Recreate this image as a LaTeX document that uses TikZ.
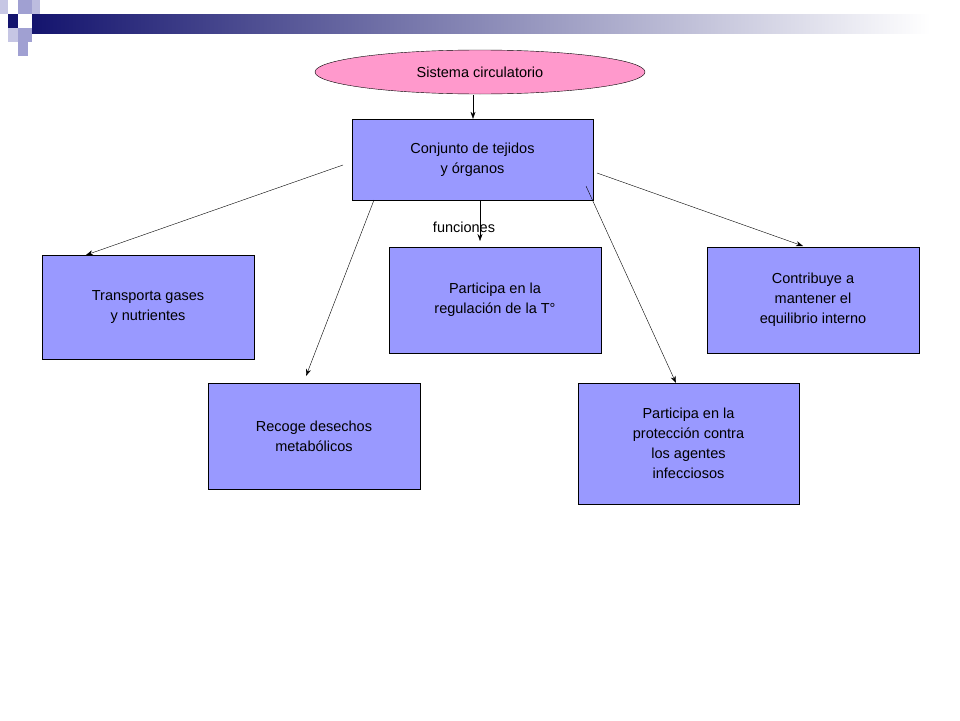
\documentclass[tikz,border=0pt]{standalone}
\usepackage{fontspec}
\setmainfont{Liberation Sans}
\usetikzlibrary{shapes.geometric,arrows.meta}
\definecolor{navy}{RGB}{20,20,110}
\definecolor{boxblue}{RGB}{153,153,255}
\definecolor{pinkish}{RGB}{255,153,204}
\definecolor{lightsq}{RGB}{160,160,210}

\tikzset{caja/.style={draw=black, fill=boxblue, align=center, font=\fontsize{14.5}{20}\selectfont, inner sep=0pt},
  flecha/.style={-{Stealth[length=7pt,width=5pt]}, thin}}

\begin{document}
\begin{tikzpicture}[x=1pt, y=-1pt]
\useasboundingbox (0,0) rectangle (960,720);
% banner
\shade[left color=navy, right color=white] (32,14) rectangle (930,33);
\fill[navy] (8,14) rectangle (18,28);
\fill[lightsq] (18,0) rectangle (32,14);
\fill[lightsq!60] (0,0) rectangle (8,14);
\fill[lightsq] (18,28) rectangle (32,42);
\fill[lightsq!60] (8,28) rectangle (18,42);
\fill[lightsq] (18,42) rectangle (28,56);
\fill[lightsq!70] (32,0) rectangle (40,14);

\node[ellipse, draw=black, fill=pinkish, minimum width=330, minimum height=44, font=\fontsize{14.5}{18}\selectfont] (sis) at (480,72) {Sistema circulatorio};
\node[caja, minimum width=241, minimum height=81] (conj) at (472.5,159.5) {Conjunto de tejidos\\ y órganos};
\node[caja, minimum width=212, minimum height=104] (trans) at (148,307) {Transporta gases\\ y nutrientes};
\node[caja, minimum width=212, minimum height=106] (temp) at (495,300) {Participa en la \\regulación de la T°};
\node[caja, minimum width=212, minimum height=106] (equi) at (813,300) {Contribuye a \\mantener el \\equilibrio interno};
\node[caja, minimum width=212, minimum height=106] (rec) at (314,436) {Recoge desechos\\ metabólicos};
\node[caja, minimum width=221, minimum height=121] (prot) at (688.5,443.5) {Participa en la \\protección contra\\ los agentes\\ infecciosos};
\node[font=\fontsize{14.5}{18}\selectfont] (fun) at (464,227) {funciones};

\coordinate (s0) at (473,95);
\coordinate (s1) at (343,165);
\coordinate (s2) at (374,200);
\coordinate (s3) at (480,200);
\coordinate (s4) at (586,186);
\coordinate (s5) at (597,173);
\draw[flecha] (s0) -- (conj.north -| s0);
\draw[flecha] (s1) -- (86,255);
\draw[flecha] (s2) -- (306,376);
\draw[flecha] (s3) -- (480,241);
\draw[flecha] (s4) -- (676,383);
\draw[flecha] (s5) -- (803,246);
\end{tikzpicture}
\end{document}
